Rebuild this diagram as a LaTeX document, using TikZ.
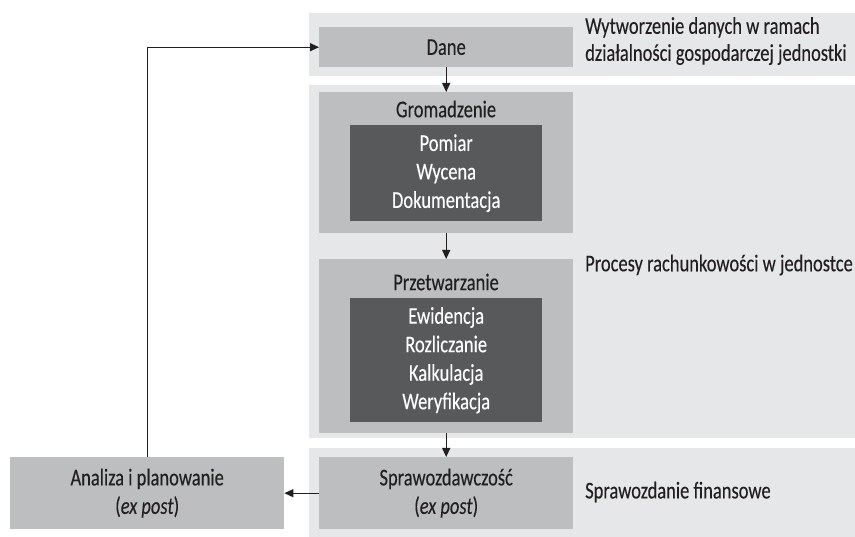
\documentclass[tikz,border=0pt]{standalone}
\usepackage{fontspec}
\setmainfont{Carlito}[FakeStretch=0.77, FakeBold=0.2]
\usetikzlibrary{arrows.meta}
\definecolor{bandgray}{HTML}{E6E7E8}
\definecolor{boxgray}{HTML}{BCBEC0}
\definecolor{innergray}{HTML}{58595B}
\definecolor{ink}{HTML}{231F20}
\tikzset{
  band/.style={fill=bandgray, inner sep=0pt, anchor=north west},
  midbox/.style={fill=boxgray, inner sep=0pt, anchor=north west, text=ink, align=center},
  innerbox/.style={fill=innergray, inner sep=0pt, anchor=north west, text=white, align=center},
  title/.style={text=ink, inner sep=0pt},
  sidelabel/.style={text=ink, anchor=west, align=left, inner sep=0pt},
  flow/.style={draw=ink, line width=1.3pt, -{Triangle[length=9pt,width=8pt]}},
}
\begin{document}
\begin{tikzpicture}[x=1pt, y=-1pt, font=\fontsize{24}{28.5}\selectfont]
\useasboundingbox (0,0) rectangle (855,537);

% background bands
\node[band, minimum width=546pt, minimum height=63pt] (bandA) at (309,13) {};
\node[band, minimum width=546pt, minimum height=353pt] (bandB) at (309,85) {};
\node[band, minimum width=546pt, minimum height=89pt] (bandC) at (309,448) {};

% data
\node[midbox, minimum width=254pt, minimum height=40pt] (dane) at (319,27) {Dane};

% gathering
\node[midbox, minimum width=254pt, minimum height=141pt] (grom) at (319,92) {};
\node[title] (gromT) at (446,109) {Gromadzenie};
\node[innerbox, minimum width=192pt, minimum height=96pt] (gromD) at (350,125)
  {Pomiar\\Wycena\\Dokumentacja};

% processing
\node[midbox, minimum width=254pt, minimum height=174pt] (przet) at (319,259) {};
\node[title] (przetT) at (446,282) {Przetwarzanie};
\node[innerbox, minimum width=192pt, minimum height=124pt] (przetD) at (350,298)
  {Ewidencja\\Rozliczanie\\Kalkulacja\\Weryfikacja};

% reporting and analysis
\node[midbox, minimum width=254pt, minimum height=72pt] (spr) at (319,457)
  {Sprawozdawczość\\(\textit{ex post})};
\node[midbox, minimum width=274pt, minimum height=72pt] (ana) at (10,457)
  {Analiza i planowanie\\(\textit{ex post})};

% side labels
\node[sidelabel, font=\fontsize{24}{27}\selectfont] (lblA) at (585,41)
  {Wytworzenie danych w ramach\\działalności gospodarczej jednostki};
\node[sidelabel] (lblB) at (585,265) {Procesy rachunkowości w jednostce};
\node[sidelabel] (lblC) at (585,492) {Sprawozdanie finansowe};

% connectors
\draw[flow] (dane.south) -- (grom.north);
\draw[flow] (grom.south) -- (przet.north);
\draw[flow] (przet.south) -- (spr.north);
\draw[flow] (spr.west) -- (ana.east);
\draw[flow] (ana.north) |- (dane.west);
\end{tikzpicture}
\end{document}
